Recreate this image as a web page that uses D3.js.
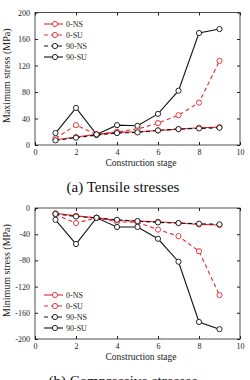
<!DOCTYPE html>
<html>
<head>
<meta charset="utf-8">
<script src="https://d3js.org/d3.v7.min.js"></script>
<style>
  body { margin: 0; background: #fff; }
  text { font-family: "Liberation Serif", "DejaVu Serif", serif; }
</style>
</head>
<body>
<svg width="250" height="380"></svg>
<script>
var stages = [1, 2, 3, 4, 5, 6, 7, 8, 9];
var seriesNames = ["0-NS", "0-SU", "90-NS", "90-SU"];

// tensile (maximum) stresses, MPa
var tens0NS  = [8, 12, 16, 19, 20, 22, 24, 26, 27];
var tens0SU  = [10, 30, 16, 20, 24, 33, 45, 64, 127];
var tens90NS = [7, 11, 15, 18, 19, 22, 24, 25, 26];
var tens90SU = [18, 56, 16, 30, 29, 47, 82, 169, 175];

// compressive (minimum) stresses, MPa
var comp0NS  = [-8, -12, -15, -19, -20, -21, -23, -25, -26];
var comp0SU  = [-10, -23, -15, -21, -22, -33, -43, -66, -133];
var comp90NS = [-9, -13, -15, -18, -20, -22, -23, -24, -25];
var comp90SU = [-18, -55, -15, -29, -29, -47, -82, -174, -185];

var xTicks = [0, 2, 4, 6, 8, 10];
var tensTicks = [0, 40, 80, 120, 160, 200];
var compTicks = [0, -40, -80, -120, -160, -200];

var styles = [
  { color: "#e8262a", dash: null },
  { color: "#e8262a", dash: "4,3" },
  { color: "#111", dash: "4,3" },
  { color: "#111", dash: null }
];

var svg = d3.select("svg");

function panel(top, bottom, domain, ticks, data, yTitle, caption, captionY, legendY) {
  var x = d3.scaleLinear().domain([0, 10]).range([35, 240]);
  var y = d3.scaleLinear().domain(domain).range([bottom, top]);
  var g = svg.append("g");

  g.append("rect").attr("x", 35).attr("y", top).attr("width", 205).attr("height", bottom - top)
    .attr("fill", "none").attr("stroke", "#222").attr("stroke-width", 0.8);

  var xa = g.append("g").attr("transform", "translate(0," + bottom + ")")
    .call(d3.axisBottom(x).tickValues(xTicks).tickSize(-3).tickPadding(4));
  var xt = g.append("g").attr("transform", "translate(0," + top + ")")
    .call(d3.axisTop(x).tickValues(xTicks).tickSize(-3).tickFormat(""));
  var ya = g.append("g").attr("transform", "translate(35,0)")
    .call(d3.axisLeft(y).tickValues(ticks).tickSize(-3).tickPadding(5)
      .tickFormat(function(d) { return d < 0 ? "-" + (-d) : d; }));
  var yr = g.append("g").attr("transform", "translate(240,0)")
    .call(d3.axisRight(y).tickValues(ticks).tickSize(-3).tickFormat(""));
  [xa, xt, ya, yr].forEach(function(a) {
    a.select(".domain").remove();
    a.selectAll("line").attr("stroke", "#222");
    a.selectAll("text").attr("font-size", 8).attr("fill", "#222")
      .style("font-family", "Liberation Serif");
  });

  g.append("text").attr("x", 141).attr("y", bottom + 21).attr("text-anchor", "middle")
    .attr("font-size", 9.5).attr("fill", "#222").text("Construction stage");
  g.append("text").attr("transform", "translate(10," + ((top + bottom) / 2 - 3) + ") rotate(-90)")
    .attr("text-anchor", "middle").attr("font-size", 10).attr("fill", "#222").text(yTitle);
  g.append("text").attr("x", 123).attr("y", captionY).attr("text-anchor", "middle")
    .attr("font-size", 15).attr("fill", "#111").text(caption);

  var line = d3.line().x(function(d, i) { return x(stages[i]); }).y(function(d) { return y(d); });

  data.forEach(function(vals, k) {
    var s = styles[k];
    g.append("path").datum(vals).attr("d", line).attr("fill", "none")
      .attr("stroke", s.color).attr("stroke-width", 1.1)
      .attr("stroke-dasharray", s.dash);
    g.selectAll(null).data(vals).enter().append("circle")
      .attr("cx", function(d, i) { return x(stages[i]); })
      .attr("cy", function(d) { return y(d); })
      .attr("r", 2.6).attr("fill", "#fff").attr("stroke", s.color).attr("stroke-width", 0.9);
  });

  seriesNames.forEach(function(name, k) {
    var s = styles[k];
    var ly = legendY + k * 11;
    g.append("line").attr("x1", 44).attr("x2", 63).attr("y1", ly).attr("y2", ly)
      .attr("stroke", s.color).attr("stroke-width", 1.1).attr("stroke-dasharray", s.dash);
    g.append("circle").attr("cx", 55).attr("cy", ly).attr("r", 2.6)
      .attr("fill", "#fff").attr("stroke", s.color).attr("stroke-width", 0.9);
    g.append("text").attr("x", 66).attr("y", ly + 3).attr("font-size", 8)
      .attr("fill", "#222").text(name);
  });
}

panel(12.5, 145, [0, 200], tensTicks, [tens0NS, tens0SU, tens90NS, tens90SU],
  "Maximum stress (MPa)", "(a) Tensile stresses", 192, 24);
panel(208, 339, [-200, 0], compTicks, [comp0NS, comp0SU, comp90NS, comp90SU],
  "Minimum stress (MPa)", "(b) Compressive stresses", 386, 295);
</script>
</body>
</html>
